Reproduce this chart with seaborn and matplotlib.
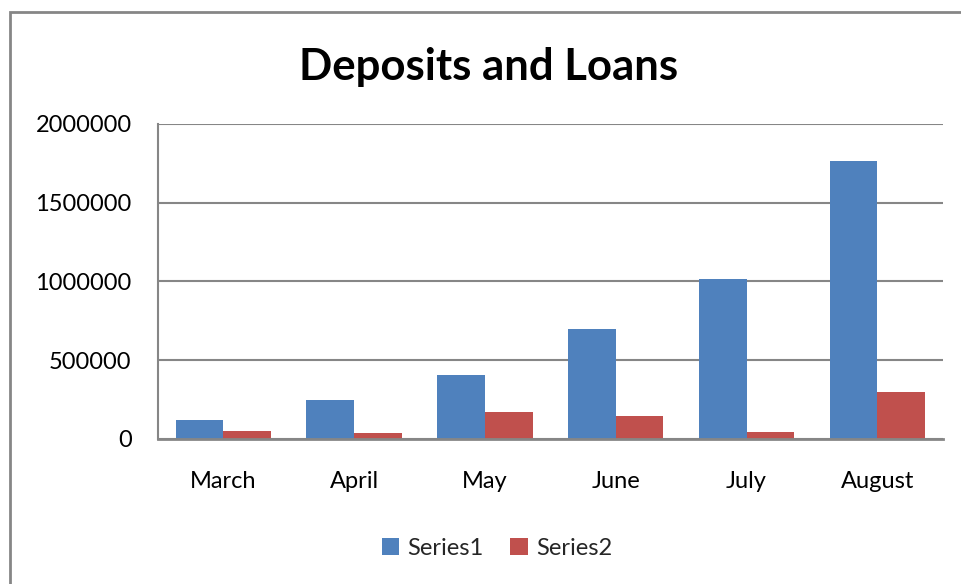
import matplotlib
matplotlib.use("Agg")
import matplotlib.pyplot as plt
from matplotlib.patches import Rectangle
import seaborn as sns
import pandas as pd

months = ["March", "April", "May", "June", "July", "August"]
series1 = [119000, 246000, 406000, 699000, 1015000, 1764000]
series2 = [51000, 36000, 168000, 146000, 43000, 299000]
series_names = ["Series1", "Series2"]
colors = ["#4F81BD", "#C0504D"]
y_ticks = [0, 500000, 1000000, 1500000, 2000000]

df = pd.DataFrame({
    "month": months * 2,
    "value": series1 + series2,
    "series": [series_names[0]] * len(months) + [series_names[1]] * len(months),
})

sns.set_theme(style="white")
plt.rcParams["font.family"] = ["Lato", "DejaVu Sans"]

fig = plt.figure(figsize=(9.61, 5.84), dpi=100)
ax = fig.add_axes([0.1644, 0.2488, 0.8166, 0.5389])

sns.barplot(data=df, x="month", y="value", hue="series", order=months,
            hue_order=series_names, palette=colors, width=0.73,
            saturation=1, linewidth=0, ax=ax, legend=True)

ax.set_xlim(-0.5, len(months) - 0.5)
ax.set_ylim(0, 2000000)
ax.set_yticks(y_ticks)
ax.set_yticklabels([str(v) for v in y_ticks])
ax.set_xlabel("")
ax.set_ylabel("")
ax.tick_params(axis="both", length=0, labelsize=17, colors="black")
ax.tick_params(axis="y", pad=19)
ax.tick_params(axis="x", pad=23)

ax.yaxis.grid(True, color="#868686", linewidth=1.5)
ax.set_axisbelow(True)
for side in ["top", "right"]:
    ax.spines[side].set_visible(False)
ax.spines["left"].set_color("#868686")
ax.spines["left"].set_linewidth(1.5)
ax.spines["bottom"].set_color("#868686")
ax.spines["bottom"].set_linewidth(2)

fig.text(0.508, 0.885, "Deposits and Loans", ha="center", va="center",
         fontsize=31.5, fontweight="bold", color="black")

handles, labels = ax.get_legend_handles_labels()
ax.legend_.remove()
fig.legend(handles, labels, loc="center", bbox_to_anchor=(0.517, 0.061),
           ncol=2, frameon=False, fontsize=17, handlelength=0.75,
           handleheight=0.75, handletextpad=0.35, columnspacing=1.1)

# outer chart-area border
fig.patches.append(Rectangle((10 / 961, -0.05), 1.2, 1 - 12 / 584 + 0.05,
                             transform=fig.transFigure, fill=False,
                             edgecolor="#868686", linewidth=2))

fig.savefig("out.png", dpi=100)
